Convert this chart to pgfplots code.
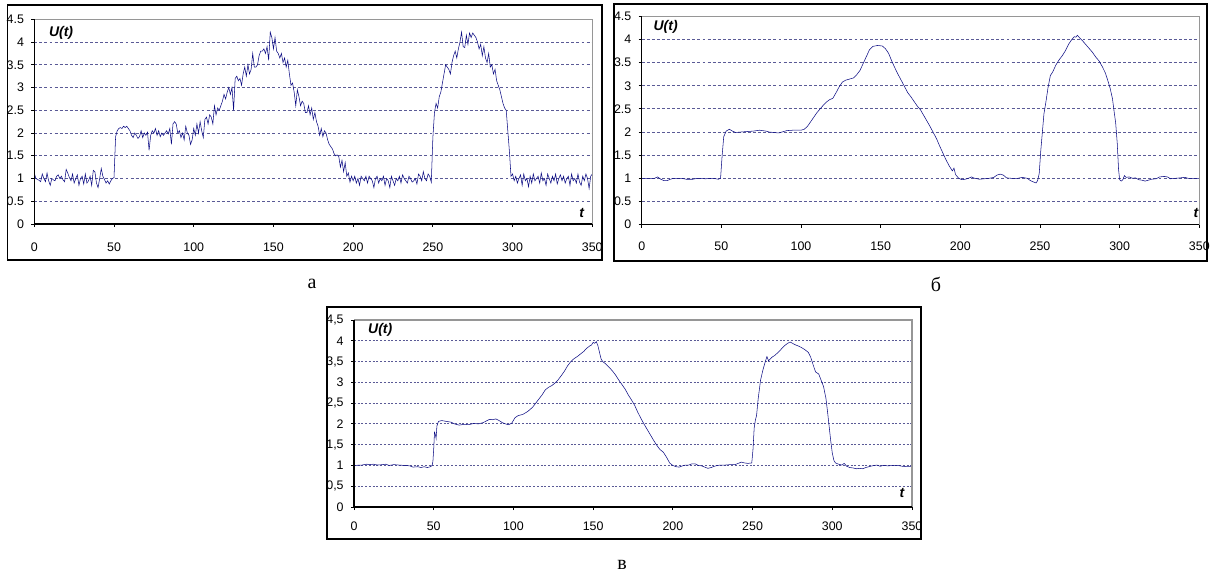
\documentclass[border=0pt]{standalone}
\usepackage{fontspec}
\setmainfont{Liberation Sans}
\newfontfamily\cyrserif{Liberation Serif}
\usepackage{pgfplots}
\pgfplotsset{compat=1.18}
\definecolor{navyline}{RGB}{10,10,130}
\definecolor{gridc}{RGB}{90,90,150}
\definecolor{bordergray}{RGB}{150,150,150}
\pgfplotsset{
 panel/.style={
  scale only axis, clip=false,
  xmin=0,xmax=350,ymin=0,ymax=4.5,
  xtick={0,50,100,150,200,250,300,350},
  xticklabels={0,50,100,150,200,250,300,350},
  ytick={0,0.5,1,1.5,2,2.5,3,3.5,4,4.5},
  tick pos=left, tick align=outside, major tick length=2.25pt,
  every tick/.style={black, line width=0.6pt},
  axis line style={draw=none},
  ymajorgrids, grid style={gridc, line width=0.6pt, dash pattern=on 2.2pt off 1.6pt},
  tick label style={font=\fontsize{9.3}{11}\selectfont},
  yticklabel style={xshift=-2pt},
  cycle list={{navyline, line width=0.95pt, mark=none, line join=round}},
  no markers,
 }
}
\newcommand\borders{%
  \draw[bordergray, line width=1.1pt] (rel axis cs:0,1) -- (rel axis cs:1,1) -- (rel axis cs:1,0);
  \draw[black, line width=0.8pt] (rel axis cs:0,1) -- (rel axis cs:0,0) -- (rel axis cs:1,0);
}
\newcommand\ulab{\fontsize{10.5}{12}\selectfont\bfseries\itshape}
\begin{document}
\begin{tikzpicture}[x=0.75pt,y=0.75pt]
\useasboundingbox (0,0) rectangle (1211,576);
\draw[line width=1.1pt] (7.5,316) rectangle (602,571);
\draw[line width=1.1pt] (614,315) rectangle (1207,572);
\draw[line width=1.1pt] (327,37) rectangle (921,269);
\node[font=\cyrserif\fontsize{15}{17}\selectfont] at (312,292) {а};
\node[font=\cyrserif\fontsize{15}{17}\selectfont] at (936,292) {б};
\node[font=\cyrserif\fontsize{15}{17}\selectfont] at (622,11) {в};

% ---------- panel a ----------
\begin{axis}[panel, at={(25.725pt,264pt)}, anchor=south west, width=418.5pt, height=153.5pt,
  yticklabels={0,0.5,1,1.5,2,2.5,3,3.5,4,4.5}, xticklabel style={yshift=-8pt}]
\addplot coordinates {
(0,1.12)(1,1.00)(2,0.98)(3,0.96)(4,0.93)(5,1.10)(6,1.00)(7,0.93)(8,1.12)(9,0.95)
(10,0.85)(11,1.00)(12,0.97)(13,0.95)(14,1.05)(15,1.08)(16,1.00)(17,1.05)(18,0.97)(19,0.93)
(20,1.20)(21,1.12)(22,1.02)(23,0.95)(24,1.10)(25,0.90)(26,1.00)(27,1.08)(28,0.85)(29,1.00)
(30,1.05)(31,0.88)(32,1.10)(33,0.90)(34,0.95)(35,1.05)(36,0.85)(37,1.18)(38,1.15)(39,0.90)
(40,0.80)(41,1.00)(42,1.22)(43,1.05)(44,0.98)(45,0.90)(46,0.95)(47,0.88)(48,0.95)(49,1.00)
(50,1.02)(51,1.92)(52,2.05)(53,2.10)(54,2.12)(55,2.10)(56,2.15)(57,2.12)(58,2.15)(59,2.10)
(60,2.05)(61,1.95)(62,1.90)(63,2.00)(64,1.95)(65,1.88)(66,1.92)(67,2.05)(68,1.90)(69,2.00)
(70,1.95)(71,2.02)(72,1.62)(73,1.95)(74,2.05)(75,2.00)(76,2.10)(77,1.95)(78,2.05)(79,1.92)
(80,2.00)(81,1.95)(82,2.00)(83,2.05)(84,1.98)(85,2.10)(86,1.75)(87,2.20)(88,2.25)(89,2.20)
(90,2.00)(91,2.05)(92,1.90)(93,2.00)(94,1.85)(95,2.15)(96,2.00)(97,1.95)(98,1.75)(99,1.85)
(100,2.10)(101,1.95)(102,2.20)(103,2.00)(104,2.25)(105,2.05)(106,1.90)(107,2.30)(108,2.35)(109,2.20)
(110,2.40)(111,2.35)(112,2.20)(113,2.60)(114,2.40)(115,2.55)(116,2.50)(117,2.60)(118,2.70)(119,2.85)
(120,2.75)(121,2.90)(122,3.00)(123,2.85)(124,3.00)(125,2.50)(126,3.20)(127,3.25)(128,3.15)(129,3.20)
(130,3.05)(131,3.30)(132,3.45)(133,3.25)(134,3.50)(135,3.30)(136,3.40)(137,3.75)(138,3.45)(139,3.45)
(140,3.50)(141,3.70)(142,3.80)(143,3.80)(144,3.85)(145,3.75)(146,3.90)(147,3.60)(148,4.22)(149,4.10)
(150,3.85)(151,4.10)(152,3.80)(153,3.75)(154,3.65)(155,3.75)(156,3.55)(157,3.65)(158,3.45)(159,3.60)
(160,3.30)(161,3.05)(162,3.10)(163,2.90)(164,2.60)(165,2.95)(166,2.80)(167,2.60)(168,2.70)(169,2.65)
(170,2.45)(171,2.45)(172,2.60)(173,2.40)(174,2.55)(175,2.30)(176,2.45)(177,2.25)(178,2.15)(179,1.95)
(180,2.10)(181,1.92)(182,2.05)(183,2.00)(184,1.85)(185,1.75)(186,1.70)(187,1.65)(188,1.55)(189,1.50)
(190,1.52)(191,1.48)(192,1.25)(193,1.40)(194,1.15)(195,1.35)(196,1.05)(197,1.12)(198,0.92)(199,1.05)
(200,0.95)(201,1.05)(202,0.90)(203,1.00)(204,0.85)(205,1.05)(206,1.00)(207,0.95)(208,1.05)(209,0.90)
(210,1.05)(211,1.00)(212,0.95)(213,0.80)(214,1.00)(215,1.05)(216,0.90)(217,1.00)(218,0.95)(219,1.05)
(220,0.85)(221,1.00)(222,0.95)(223,0.80)(224,1.05)(225,0.95)(226,0.85)(227,1.00)(228,0.95)(229,1.05)
(230,0.90)(231,1.08)(232,1.00)(233,0.95)(234,0.90)(235,1.05)(236,1.00)(237,0.92)(238,0.95)(239,1.00)
(240,0.88)(241,1.10)(242,1.05)(243,0.95)(244,1.15)(245,1.00)(246,0.95)(247,1.10)(248,1.05)(249,0.92)
(250,1.90)(251,2.45)(252,2.65)(253,2.55)(254,2.80)(255,2.90)(256,3.10)(257,3.30)(258,3.50)(259,3.45)
(260,3.40)(261,3.30)(262,3.55)(263,3.70)(264,3.80)(265,3.65)(266,3.85)(267,4.00)(268,4.22)(269,3.90)
(270,3.88)(271,4.15)(272,3.95)(273,4.20)(274,4.10)(275,4.20)(276,4.15)(277,4.10)(278,4.00)(279,3.85)
(280,3.95)(281,3.70)(282,3.90)(283,3.65)(284,3.55)(285,3.75)(286,3.45)(287,3.50)(288,3.30)(289,3.40)
(290,3.15)(291,3.05)(292,2.95)(293,2.80)(294,2.65)(295,2.55)(296,2.50)(297,2.05)(298,1.60)(299,1.05)
(300,1.10)(301,0.95)(302,1.05)(303,0.90)(304,1.00)(305,1.08)(306,0.85)(307,1.10)(308,0.95)(309,1.00)
(310,0.82)(311,1.05)(312,0.90)(313,1.10)(314,0.95)(315,1.00)(316,1.05)(317,0.90)(318,1.12)(319,0.95)
(320,1.00)(321,0.85)(322,1.10)(323,1.00)(324,0.90)(325,1.05)(326,0.95)(327,1.10)(328,0.88)(329,1.00)
(330,1.08)(331,0.95)(332,1.05)(333,0.90)(334,1.00)(335,1.05)(336,0.85)(337,1.10)(338,0.95)(339,1.00)
(340,0.90)(341,1.10)(342,0.92)(343,0.85)(344,1.05)(345,0.95)(346,1.10)(347,1.00)(348,0.78)(349,1.05)
(350,1.10)
};
\borders
\node[font=\ulab] at (axis description cs:0.048,0.932) {U(t)};
\node[font=\ulab] at (axis description cs:0.981,0.054) {t};
\end{axis}

% ---------- panel b ----------
\begin{axis}[panel, at={(481.275pt,263.55pt)}, anchor=south west, width=418.2pt, height=156.2pt,
  yticklabels={0,0.5,1,1.5,2,2.5,3,3.5,4,4.5}, xticklabel style={yshift=-7pt}]
\addplot coordinates {
(0,1.0)(5,1.0)(8,1.0)(10,1.03)(12,0.98)(14,0.95)(16,0.95)(18,0.98)(20,1.0)(25,1.0)(28,0.98)(32,0.98)
(35,1.0)(40,0.99)(45,1.0)(48,0.98)(49.5,1.0)(50.5,1.5)(51.5,1.9)(53,2.02)(55,2.06)(57,2.02)(59,1.99)
(62,2.0)(66,2.01)(70,2.02)(74,2.04)(78,2.02)(80,2.0)(83,1.99)(86,1.98)(88,2.0)(91,2.03)(95,2.04)
(100,2.04)(102,2.06)(104,2.12)(106,2.22)(108,2.32)(110,2.42)(112,2.5)(114,2.58)(116,2.65)(118,2.7)
(120,2.73)(122,2.85)(124,2.98)(126,3.08)(128,3.12)(130,3.14)(133,3.17)(135,3.24)(137,3.33)(139,3.48)
(141,3.63)(143,3.78)(145,3.85)(148,3.87)(151,3.86)(153,3.8)(155,3.7)(157,3.53)(159,3.38)(161,3.24)
(163,3.11)(165,2.98)(167,2.85)(169,2.76)(171,2.66)(173,2.56)(175,2.48)(177,2.36)(179,2.24)(181,2.12)
(183,1.99)(185,1.86)(187,1.7)(189,1.55)(191,1.4)(193,1.27)(195,1.16)(196,1.22)(197,1.08)(199,1.0)
(201,0.97)(203,0.98)(205,1.0)(207,1.03)(209,1.0)(212,0.98)(215,0.99)(218,1.0)(221,1.02)(223,1.07)
(225,1.09)(227,1.07)(229,1.01)(232,1.0)(236,1.0)(239,1.02)(242,1.0)(244,0.95)(246,0.92)(247.5,0.9)
(248.5,0.95)(249.5,1.1)(250.5,1.6)(251.5,2.0)(252.5,2.4)(253.5,2.6)(255,2.95)(256.5,3.22)(258,3.3)
(260,3.45)(262,3.56)(264,3.65)(266,3.76)(268,3.9)(270,4.0)(271.5,4.06)(272.5,4.05)(273.5,4.09)
(275,4.03)(277,3.96)(279,3.88)(281,3.8)(283,3.72)(285,3.62)(287,3.54)(289,3.42)(291,3.28)(292.5,3.12)
(294,2.95)(295.5,2.72)(296.5,2.45)(297.5,2.2)(298.5,1.75)(299.3,1.2)(300,0.97)(301,0.94)(302,0.97)
(303,1.06)(304,1.02)(306,1.03)(308,1.0)(310,1.01)(312,0.97)(314,0.96)(316,0.94)(318,0.96)(320,0.98)
(323,0.99)(325,1.03)(328,1.04)(330,1.03)(332,0.99)(335,1.0)(338,1.01)(341,1.02)(343,1.0)(350,1.0)
};
\borders
\node[font=\ulab] at (axis description cs:0.043,0.947) {U(t)};
\node[font=\ulab] at (axis description cs:0.994,0.056) {t};
\end{axis}

% ---------- panel v ----------
\begin{axis}[panel, at={(265.5pt,51.75pt)}, anchor=south west, width=418.5pt, height=140.25pt,
  yticklabels={0,{0,5},1,{1,5},2,{2,5},3,{3,5},4,{4,5}}, xticklabel style={yshift=-5.5pt},
  grid style={gridc, line width=0.6pt, dash pattern=on 1.5pt off 1.3pt}]
\addplot coordinates {
(0,1.0)(5,1.01)(8,1.03)(10,1.02)(12,1.03)(15,1.01)(18,1.02)(20,1.03)(22,1.0)(25,1.02)(28,1.01)(32,1.0)
(35,0.99)(37,0.96)(40,0.97)(42,0.95)(44,0.97)(46,0.95)(48,0.97)(49,1.0)(49.5,1.1)(50,1.4)(50.5,1.8)
(51,1.75)(51.5,1.65)(52,1.95)(53,2.06)(55,2.08)(58,2.06)(61,2.04)(63,2.0)(66,1.97)(69,1.99)(72,1.98)
(75,2.01)(78,2.0)(81,2.03)(83,2.07)(85,2.11)(87,2.1)(89,2.12)(91,2.08)(93,2.03)(95,2.0)(97,1.98)
(99,2.02)(101,2.15)(103,2.2)(106,2.23)(109,2.3)(112,2.4)(115,2.55)(118,2.7)(120,2.82)(122,2.88)
(124,2.92)(126,2.98)(128,3.06)(130,3.16)(132,3.27)(134,3.4)(136,3.5)(138,3.57)(140,3.62)(142,3.68)
(144,3.74)(146,3.82)(148,3.88)(149,3.9)(150,3.96)(151,3.94)(152,3.98)(153,3.88)(154,3.72)(155,3.56)
(156,3.5)(158,3.44)(160,3.36)(162,3.28)(164,3.18)(166,3.06)(168,2.95)(170,2.84)(172,2.7)(174,2.58)
(176,2.45)(178,2.28)(180,2.13)(182,1.99)(184,1.86)(186,1.73)(188,1.6)(190,1.48)(192,1.38)(194,1.32)
(196,1.2)(198,1.06)(200,1.0)(202,0.97)(204,0.96)(206,0.99)(208,1.01)(210,1.01)(212,1.04)(214,1.04)
(216,1.0)(218,0.99)(220,0.96)(222,0.93)(224,0.95)(226,0.98)(228,1.0)(230,1.01)(233,1.01)(236,1.02)
(239,1.02)(241,1.05)(243,1.08)(245,1.06)(247,1.05)(249.5,1.06)(250.3,1.4)(251,1.9)(251.8,2.1)
(252.5,2.2)(253.5,2.6)(255,3.05)(256.5,3.3)(258,3.5)(259,3.62)(260,3.52)(262,3.6)(264,3.65)(266,3.72)
(268,3.8)(270,3.88)(272,3.94)(273.5,3.97)(275,3.94)(277,3.9)(279,3.87)(281,3.83)(283,3.78)(285,3.72)
(286.5,3.6)(288,3.42)(289.5,3.25)(291.5,3.2)(293,3.05)(294.5,2.9)(296,2.62)(297,2.3)(298,1.95)
(299,1.6)(300,1.3)(301,1.12)(302,1.06)(304,1.03)(306,1.01)(307.5,1.05)(309,0.98)(311,0.95)(313,0.94)
(315,0.92)(317,0.93)(319,0.92)(321,0.95)(323,0.97)(325,0.99)(328,1.01)(330,0.98)(332,1.0)(335,0.99)
(338,1.0)(341,1.0)(344,0.98)(347,0.97)(350,0.97)
};
\borders
\node[font=\ulab] at (axis description cs:0.047,0.947) {U(t)};
\node[font=\ulab] at (axis description cs:0.982,0.075) {t};
\end{axis}
\end{tikzpicture}
\end{document}
